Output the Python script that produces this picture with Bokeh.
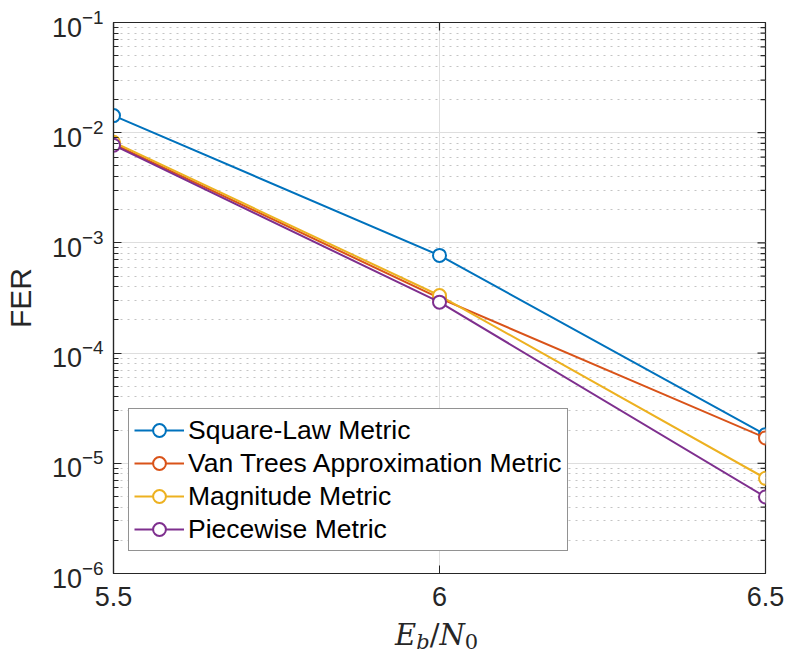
import math
from bokeh.plotting import figure
from bokeh.layouts import column
from bokeh.models import (FixedTicker, Legend, LegendItem, Range1d, Div,
                          LogTickFormatter)
from bokeh.embed import file_html
from bokeh.resources import INLINE

# Eb/N0 operating points (dB)
ebn0 = [5.5, 6.0, 6.5]

# Frame error rate per detection metric
fer_square_law = [1.43e-2, 7.7e-4, 1.82e-5]
fer_van_trees = [7.9e-3, 3.15e-4, 1.70e-5]
fer_magnitude = [8.2e-3, 3.33e-4, 7.3e-6]
fer_piecewise = [7.7e-3, 2.9e-4, 4.95e-6]

series_names = ["Square-Law Metric", "Van Trees Approximation Metric",
                "Magnitude Metric", "Piecewise Metric"]
series_values = [fer_square_law, fer_van_trees, fer_magnitude, fer_piecewise]
series_colors = ["#0072BD", "#D95319", "#EDB120", "#7E2F8E"]

x_ticks = [5.5, 6.0, 6.5]
x_tick_labels = ["5.5", "6", "6.5"]
y_exponents = [-6, -5, -4, -3, -2, -1]

AX = "#262626"
FONT = "Liberation Sans"
X_MIN, X_MAX = 5.5, 6.5
Y_MIN, Y_MAX = 1e-6, 1e-1
W, H_PLOT, H_TITLE = 786, 618, 38

y_major = [10.0 ** e for e in y_exponents]
y_minor = [k * 10.0 ** e for e in y_exponents[:-1] for k in range(2, 10)]

p = figure(width=W, height=H_PLOT, y_axis_type="log",
           x_range=Range1d(X_MIN, X_MAX), y_range=Range1d(Y_MIN, Y_MAX),
           output_backend="svg", toolbar_location=None,
           min_border_left=112, min_border_right=21,
           min_border_top=22, min_border_bottom=45,
           background_fill_color="white", border_fill_color="white")
p.outline_line_color = AX
p.outline_line_width = 1.2


def style_axis(ax):
    ax.axis_line_color = AX
    ax.axis_line_width = 1.2
    ax.major_tick_line_color = AX
    ax.minor_tick_line_color = AX
    ax.major_tick_in = 8
    ax.major_tick_out = 0
    ax.minor_tick_in = 5
    ax.minor_tick_out = 0
    ax.major_label_text_font = FONT
    ax.major_label_text_color = AX
    ax.major_label_text_font_size = "27px"


x_ticker = FixedTicker(ticks=x_ticks)
y_ticker = FixedTicker(ticks=y_major, minor_ticks=y_minor)

xa = p.xaxis[0]
xa.ticker = x_ticker
xa.major_label_overrides = {t: s for t, s in zip(x_ticks, x_tick_labels)}
style_axis(xa)
xa.major_label_standoff = 13

ya = p.yaxis[0]
ya.ticker = y_ticker
ya.formatter = LogTickFormatter()
style_axis(ya)
ya.major_label_standoff = 10
ya.axis_label = "FER"
ya.axis_label_text_font = FONT
ya.axis_label_text_font_size = "30px"
ya.axis_label_text_font_style = "normal"
ya.axis_label_text_color = AX
ya.axis_label_standoff = 12

# grid: solid major lines, dotted minor lines on the log axis
p.xgrid.ticker = x_ticker
p.xgrid.grid_line_color = "#dedede"
p.ygrid.ticker = y_ticker
p.ygrid.grid_line_color = "#dedede"
p.ygrid.minor_grid_line_color = "#c4c4c4"
p.ygrid.minor_grid_line_dash = "2 5"

# inward ticks on the top and right edges of the box (half of each dash is
# clipped by the frame, leaving the inner part visible)
p.scatter(x=x_ticks, y=[Y_MAX] * len(x_ticks), marker="dash", size=16,
          angle=math.pi / 2, line_color=AX, line_width=1.2)
p.scatter(x=[X_MAX] * len(y_major), y=y_major, marker="dash", size=16,
          line_color=AX, line_width=1.2)
p.scatter(x=[X_MAX] * len(y_minor), y=y_minor, marker="dash", size=10,
          line_color=AX, line_width=1.2)

items = []
for name, vals, color in zip(series_names, series_values, series_colors):
    ln = p.line(ebn0, vals, line_color=color, line_width=2)
    mk = p.scatter(ebn0, vals, marker="circle", size=13, line_color=color,
                   line_width=2, fill_color="white")
    items.append(LegendItem(label=name, renderers=[ln, mk]))

legend = Legend(items=items, location=(15, 22),
                label_text_font=FONT, label_text_font_size="26.5px",
                label_text_color="black",
                glyph_width=50, glyph_height=32, label_height=32,
                spacing=1, padding=5, margin=0, label_standoff=4,
                border_line_color=AX, border_line_width=1,
                background_fill_color="white", background_fill_alpha=1)
p.add_layout(legend)

# x-axis title E_b/N_0 with italic symbols and subscripts
sub = "font-size:21px;position:relative;top:4px"
xlabel_html = (
    '<div style="padding-left:395px;font-family:\'DejaVu Serif\';'
    'font-size:29px;line-height:34px;color:#262626;white-space:nowrap">'
    '<i>E</i><span style="' + sub + ';font-style:italic">b</span>'
    '/<i>N</i><span style="' + sub + '">0</span></div>'
)
xlabel = Div(text=xlabel_html, width=W, height=H_TITLE, margin=0)

layout = column(p, xlabel, spacing=0)
open("out.html", "w").write(file_html(layout, INLINE))
